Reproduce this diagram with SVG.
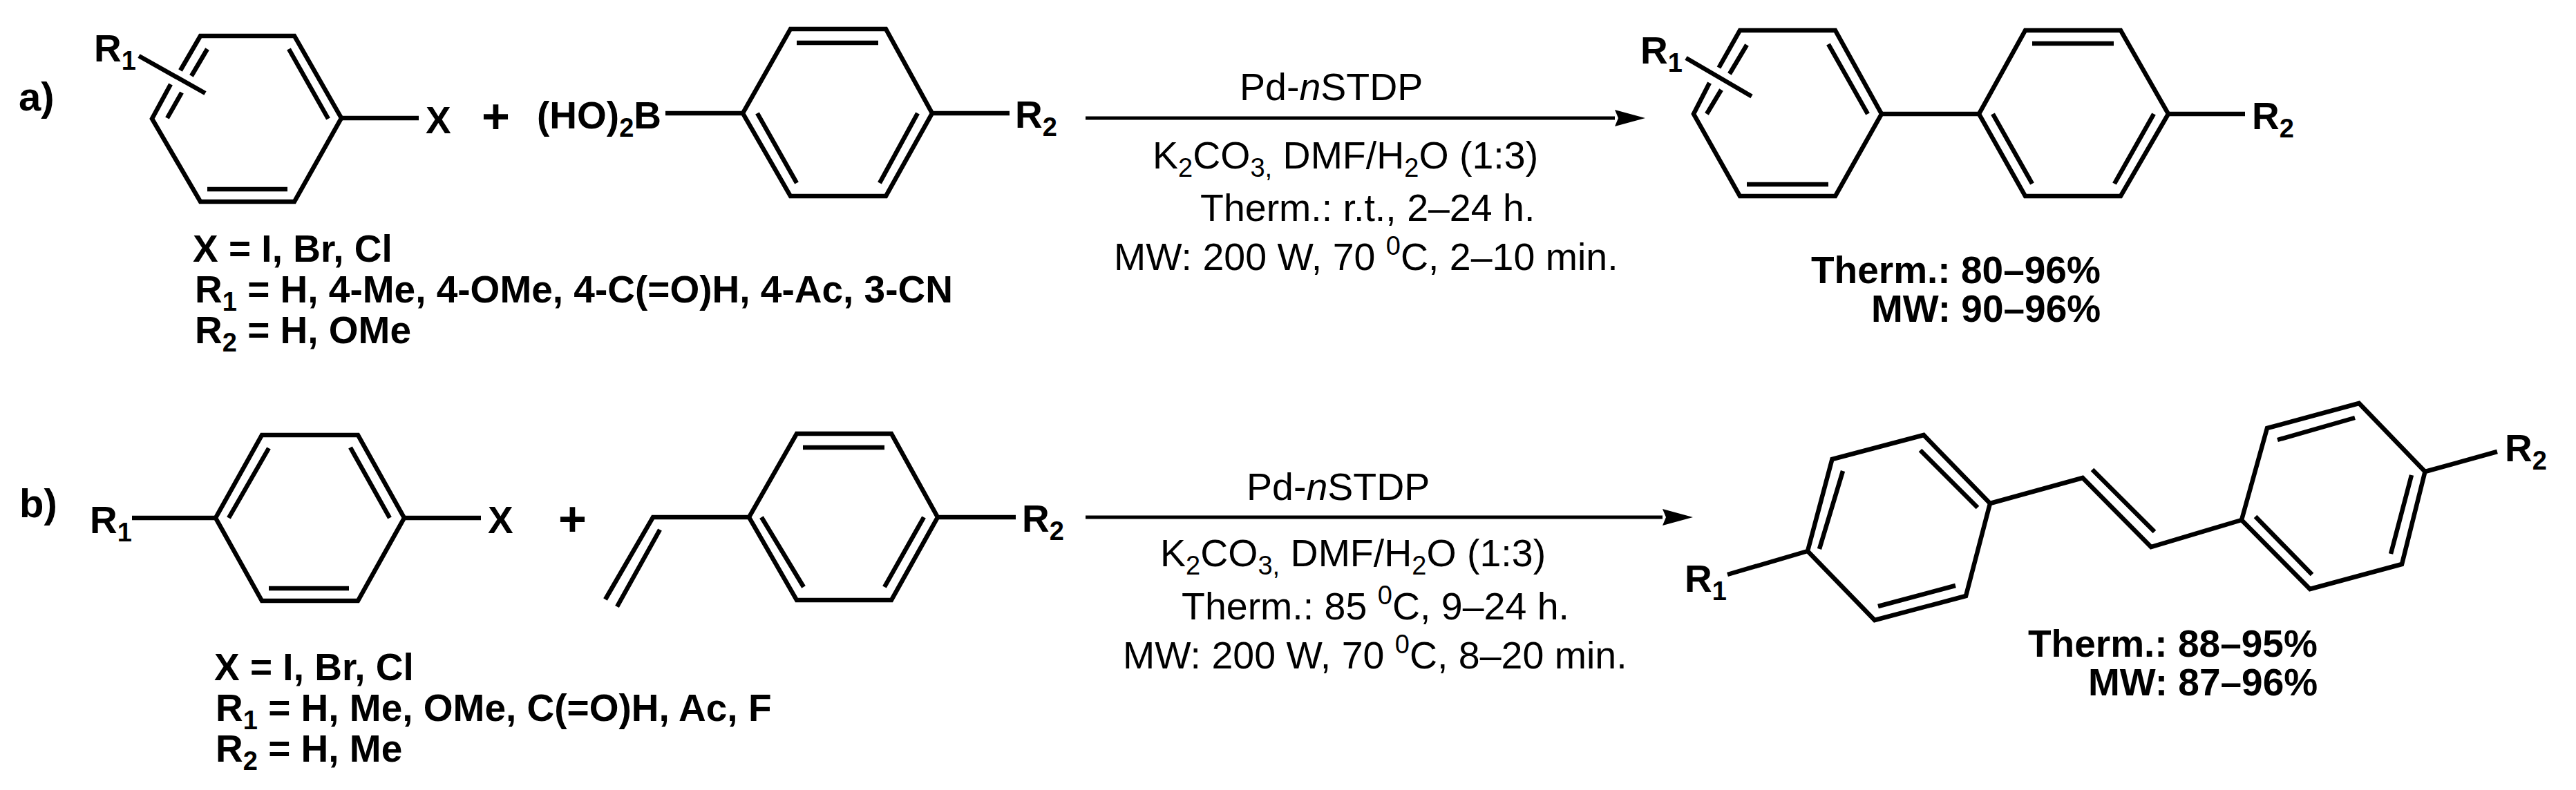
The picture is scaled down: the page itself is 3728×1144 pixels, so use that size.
<svg xmlns="http://www.w3.org/2000/svg" width="3728" height="1144" viewBox="0 0 3728 1144">
<style>
.b{fill:none;stroke:#000;stroke-width:6.500;stroke-linejoin:miter;stroke-linecap:butt}
.a{fill:none;stroke:#000;stroke-width:5}
text{font-family:"Liberation Sans",Arial,sans-serif;font-size:55.500px;fill:#000}
.w{font-weight:700;font-size:55px}
.s{font-size:38px}
.i{font-style:italic}
.l{font-size:58px}
.p{font-size:70px}
</style>
<defs>
<marker id="head" markerUnits="userSpaceOnUse" markerWidth="44" markerHeight="24" refX="0" refY="12" orient="auto" viewBox="0 0 44 24"><path d="M0 0L44 12L0 24L5 12Z" fill="#000"/></marker>
</defs>
<rect width="3728" height="1144" fill="#fff"/>

<g id="label-a"><text class="w l" x="27" y="160">a)</text></g>
<g id="label-b"><text class="w l" x="28" y="749">b)</text></g>

<g id="a-aryl-halide">
<path class="b" d="M261 102L290 52H426L494 171L426 292H290L220 172L247 122"/>
<path class="b" d="M300 71L277 110M263 134L242 171M418 71L475 172M300 274H416M201 81L297 135M494 171H606"/>
<text class="w" x="136" y="89">R<tspan class="s" dy="12">1</tspan></text>
<text class="w" x="616" y="193">X</text>
</g>
<g id="a-plus"><text class="w p" x="697" y="193">+</text></g>
<g id="a-boronic-acid">
<path class="b" d="M1144 42H1282L1349 164L1282 284H1144L1075 164ZM1153 62H1271M1096 164L1153 265M1328 164L1273 265M963 164H1075M1349 164H1461"/>
<text class="w" x="777" y="186">(HO)<tspan class="s" dy="12">2</tspan><tspan dy="-12">B</tspan></text>
<text class="w" x="1469" y="185">R<tspan class="s" dy="12">2</tspan></text>
</g>
<g id="a-substrates">
<text class="w" x="279" y="379">X = I, Br, Cl</text>
<text class="w" x="282" y="438">R<tspan class="s" dy="12">1</tspan><tspan dy="-12"> = H, 4-Me, 4-OMe, 4-C(=O)H, 4-Ac, 3-CN</tspan></text>
<text class="w" x="282" y="497">R<tspan class="s" dy="12">2</tspan><tspan dy="-12"> = H, OMe</tspan></text>
</g>
<g id="a-conditions">
<text x="1794" y="145">Pd-<tspan class="i">n</tspan>STDP</text>
<text x="1668" y="244">K<tspan class="s" dy="12">2</tspan><tspan dy="-12">CO</tspan><tspan class="s" dy="12">3,</tspan><tspan dy="-12"> DMF/H</tspan><tspan class="s" dy="12">2</tspan><tspan dy="-12">O (1:3)</tspan></text>
<text x="1737" y="320">Therm.: r.t., 2–24 h.</text>
<text x="1612" y="391">MW: 200 W, 70 <tspan class="s" dy="-22">0</tspan><tspan dy="22">C, 2–10 min.</tspan></text>
</g>
<g id="a-biphenyl">
<path class="b" d="M2487.500 98L2518 44H2656L2723 165L2656 284H2518L2451 165L2474 120"/>
<path class="b" d="M2528 65L2503 107M2491 130L2470 165M2646 64L2703 165M2528 267H2646M2440 84L2535 139.500M2723 165H2864"/>
<path class="b" d="M2931 44H3069L3138 165L3069 284H2931L2864 165ZM2941 63H3059M2884 165L2941 266M3117 165L3060 266M3138 165H3249"/>
<text class="w" x="2374" y="92">R<tspan class="s" dy="12">1</tspan></text>
<text class="w" x="3259" y="187">R<tspan class="s" dy="12">2</tspan></text>
</g>
<g id="a-yields">
<text class="w" x="2621" y="410">Therm.: 80–96%</text>
<text class="w" x="2708" y="466">MW: 90–96%</text>
</g>

<g id="b-aryl-halide">
<path class="b" d="M379 630H518L585 750L518 870H379L312 750ZM389 649L331 750M507 648L564 750M389 852H505M191 750H312M585 750H696"/>
<text class="w" x="130" y="772">R<tspan class="s" dy="12">1</tspan></text>
<text class="w" x="706" y="772">X</text>
</g>
<g id="b-plus"><text class="w p" x="808" y="776">+</text></g>
<g id="b-styrene">
<path class="b" d="M876 868L945 749H1084M955 767L893 878.500"/>
<path class="b" d="M1153 628H1290L1357 749L1290 869H1153L1084 749ZM1162 648H1280M1102 749L1163 850M1337 749L1280 850M1357 749H1470"/>
<text class="w" x="1479" y="770">R<tspan class="s" dy="12">2</tspan></text>
</g>
<g id="b-substrates">
<text class="w" x="310" y="985">X = I, Br, Cl</text>
<text class="w" x="312" y="1044">R<tspan class="s" dy="12">1</tspan><tspan dy="-12"> = H, Me, OMe, C(=O)H, Ac, F</tspan></text>
<text class="w" x="312" y="1103">R<tspan class="s" dy="12">2</tspan><tspan dy="-12"> = H, Me</tspan></text>
</g>
<g id="b-conditions">
<text x="1804" y="724">Pd-<tspan class="i">n</tspan>STDP</text>
<text x="1679" y="820">K<tspan class="s" dy="12">2</tspan><tspan dy="-12">CO</tspan><tspan class="s" dy="12">3,</tspan><tspan dy="-12"> DMF/H</tspan><tspan class="s" dy="12">2</tspan><tspan dy="-12">O (1:3)</tspan></text>
<text x="1710" y="897">Therm.: 85 <tspan class="s" dy="-22">0</tspan><tspan dy="22">C, 9–24 h.</tspan></text>
<text x="1625" y="968">MW: 200 W, 70 <tspan class="s" dy="-22">0</tspan><tspan dy="22">C, 8–20 min.</tspan></text>
</g>
<g id="b-stilbene">
<path class="b" d="M2616 798L2651.500 665L2784 630L2880 729L2845 863L2713 898ZM2633 795L2667 682M2779 652L2862 735M2830 848L2718 878M2500 832L2616 798"/>
<path class="b" d="M2880 729L3014 692L3113 792L3244 753M3028 680L3118 770"/>
<path class="b" d="M3244 753L3281 620L3414 584L3509.500 683L3476 817L3343 853ZM3296 637L3408 605M3490 688L3460 802M3264 748L3346 832M3509.500 683L3614 654"/>
<text class="w" x="2438" y="857">R<tspan class="s" dy="12">1</tspan></text>
<text class="w" x="3625" y="668">R<tspan class="s" dy="12">2</tspan></text>
</g>
<g id="b-yields">
<text class="w" x="2935" y="951">Therm.: 88–95%</text>
<text class="w" x="3022" y="1007">MW: 87–96%</text>
</g>

<g id="connectors">
<path class="a" d="M1571 171H2337" marker-end="url(#head)"/>
<path class="a" d="M1571 749H2406" marker-end="url(#head)"/>
</g>
</svg>
